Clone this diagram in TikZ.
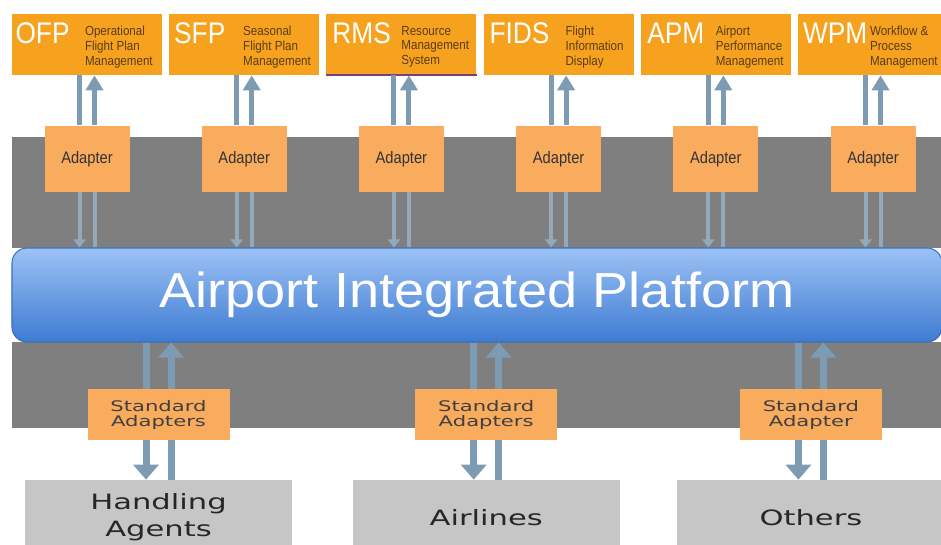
\documentclass[tikz,border=0pt]{standalone}
\usepackage{fontspec}
\usetikzlibrary{arrows.meta}
\usetikzlibrary{positioning}
\newfontfamily\topfont[FakeStretch=0.88]{Liberation Sans}
\newfontfamily\lowfont[FakeStretch=1.45]{DejaVu Sans}
\newfontfamily\platfont[FakeStretch=1.1]{Liberation Sans}
\definecolor{sysorange}{HTML}{F7A21E}
\definecolor{adaptorange}{HTML}{F9AB5E}
\definecolor{bandgray}{HTML}{7F7F7F}
\definecolor{partygray}{HTML}{C6C6C6}
\definecolor{flowblue}{HTML}{7E9BB4}
\definecolor{flowlight}{HTML}{93A8B9}
\definecolor{platTop}{HTML}{9CC2F5}
\definecolor{platBot}{HTML}{3E7BD1}
\definecolor{platEdge}{HTML}{3A70C0}
\definecolor{descbrown}{HTML}{5A3C14}
\definecolor{rmspurple}{HTML}{7B3F7B}

\begin{document}
        \begin{tikzpicture}[
            system/.style = {fill=sysorange, minimum width=3cm, minimum height=1.22cm, inner sep=0pt},
            abbr/.style = {anchor=north west, inner sep=0pt, text=white, font=\topfont\fontsize{17}{17}\selectfont},
            desc/.style = {anchor=north west, inner sep=0pt, align=left, text=descbrown, font=\topfont\fontsize{7.5}{8.5}\selectfont},
            adapter/.style = {fill=adaptorange, minimum width=1.7cm, minimum height=1.32cm, inner sep=0pt, text=black!80, font=\topfont\fontsize{9.5}{10}\selectfont},
            stdadapter/.style = {fill=adaptorange, minimum width=2.84cm, minimum height=1.02cm, inner sep=0pt, align=center, text=black!75, font=\lowfont\fontsize{8.3}{8.6}\selectfont},
            party/.style = {fill=partygray, minimum width=5.34cm, minimum height=1.5cm, inner sep=0pt, align=center, text=black!85, font=\lowfont\fontsize{12}{15.3}\selectfont},
            platform/.style = {draw=platEdge, line width=0.6pt, rounded corners=0.3cm, top color=platTop, bottom color=platBot, minimum width=18.6cm, minimum height=1.88cm, text=white, font=\platfont\fontsize{28}{30}\selectfont},
            flow/.style = {draw=flowblue, line width=0.1cm},
            thinflow/.style = {draw=flowlight, line width=0.08cm},
            bigflow/.style = {draw=flowblue, line width=0.14cm},
            uphead/.style = {-{Triangle[width=0.34cm, length=0.3cm]}},
            downhead/.style = {-{Triangle[width=0.24cm, length=0.16cm]}},
            bighead/.style = {-{Triangle[width=0.5cm, length=0.3cm]}}
        ]
            \useasboundingbox (0,0) rectangle (18.82,10.88);
            \clip (0,0) rectangle (18.82,10.88);

            \fill[bandgray] (0.24,5.92) rectangle (18.82,8.14);
            \fill[bandgray] (0.24,2.32) rectangle (18.82,4.04);

            \node[platform] (platform) at (9.54,4.98) {Airport Integrated Platform};

            \node[system] (ofp) at (1.74,9.99) {};
            \node[system, right=0.13cm of ofp] (sfp) {};
            \node[system, right=0.13cm of sfp] (rms) {};
            \node[system, right=0.13cm of rms] (fids) {};
            \node[system, right=0.13cm of fids] (apm) {};
            \node[system, right=0.13cm of apm] (wpm) {};
            \draw[rmspurple, line width=1.2pt] (rms.south west) -- (rms.south east);

            \node[abbr] (ofpName) at ([shift={(0.07,-0.18)}]ofp.north west) {OFP};
            \node[abbr] (sfpName) at ([shift={(0.1,-0.18)}]sfp.north west) {SFP};
            \node[abbr] (rmsName) at ([shift={(0.12,-0.18)}]rms.north west) {RMS};
            \node[abbr] (fidsName) at ([shift={(0.12,-0.18)}]fids.north west) {FIDS};
            \node[abbr] (apmName) at ([shift={(0.13,-0.18)}]apm.north west) {APM};
            \node[abbr] (wpmName) at ([shift={(0.1,-0.18)}]wpm.north west) {WPM};

            \node[desc] (ofpText) at ([shift={(1.46,-0.24)}]ofp.north west) {Operational\\Flight Plan\\Management};
            \node[desc] (sfpText) at ([shift={(1.48,-0.24)}]sfp.north west) {Seasonal\\Flight Plan\\Management};
            \node[desc] (rmsText) at ([shift={(1.5,-0.24)}]rms.north west) {Resource\\Management\\System};
            \node[desc] (fidsText) at ([shift={(1.64,-0.24)}]fids.north west) {Flight\\Information\\Display};
            \node[desc] (apmText) at ([shift={(1.5,-0.24)}]apm.north west) {Airport\\Performance\\Management};
            \node[desc] (wpmText) at ([shift={(1.44,-0.24)}]wpm.north west) {Workflow \&\\Process\\Management};

            \node[adapter, below=1cm of ofp] (ofpAdapter) {Adapter};
            \node[adapter, below=1cm of sfp] (sfpAdapter) {Adapter};
            \node[adapter, below=1cm of rms] (rmsAdapter) {Adapter};
            \node[adapter, below=1cm of fids] (fidsAdapter) {Adapter};
            \node[adapter, below=1cm of apm] (apmAdapter) {Adapter};
            \node[adapter, below=1cm of wpm] (wpmAdapter) {Adapter};

            \draw[flow] ([xshift=-0.15cm]ofpAdapter.north) -- ([xshift=-0.15cm]ofp.south);
            \draw[flow, uphead] ([xshift=0.15cm]ofpAdapter.north) -- ([xshift=0.15cm]ofp.south);
            \draw[flow] ([xshift=-0.15cm]sfpAdapter.north) -- ([xshift=-0.15cm]sfp.south);
            \draw[flow, uphead] ([xshift=0.15cm]sfpAdapter.north) -- ([xshift=0.15cm]sfp.south);
            \draw[flow] ([xshift=-0.15cm]rmsAdapter.north) -- ([xshift=-0.15cm]rms.south);
            \draw[flow, uphead] ([xshift=0.15cm]rmsAdapter.north) -- ([xshift=0.15cm]rms.south);
            \draw[flow] ([xshift=-0.15cm]fidsAdapter.north) -- ([xshift=-0.15cm]fids.south);
            \draw[flow, uphead] ([xshift=0.15cm]fidsAdapter.north) -- ([xshift=0.15cm]fids.south);
            \draw[flow] ([xshift=-0.15cm]apmAdapter.north) -- ([xshift=-0.15cm]apm.south);
            \draw[flow, uphead] ([xshift=0.15cm]apmAdapter.north) -- ([xshift=0.15cm]apm.south);
            \draw[flow] ([xshift=-0.15cm]wpmAdapter.north) -- ([xshift=-0.15cm]wpm.south);
            \draw[flow, uphead] ([xshift=0.15cm]wpmAdapter.north) -- ([xshift=0.15cm]wpm.south);

            \draw[thinflow, downhead] ([xshift=-0.15cm]ofpAdapter.south) -- ([xshift=-0.15cm]ofpAdapter.south |- platform.north);
            \draw[thinflow] ([xshift=0.15cm]ofpAdapter.south) -- ([xshift=0.15cm]ofpAdapter.south |- platform.north);
            \draw[thinflow, downhead] ([xshift=-0.15cm]sfpAdapter.south) -- ([xshift=-0.15cm]sfpAdapter.south |- platform.north);
            \draw[thinflow] ([xshift=0.15cm]sfpAdapter.south) -- ([xshift=0.15cm]sfpAdapter.south |- platform.north);
            \draw[thinflow, downhead] ([xshift=-0.15cm]rmsAdapter.south) -- ([xshift=-0.15cm]rmsAdapter.south |- platform.north);
            \draw[thinflow] ([xshift=0.15cm]rmsAdapter.south) -- ([xshift=0.15cm]rmsAdapter.south |- platform.north);
            \draw[thinflow, downhead] ([xshift=-0.15cm]fidsAdapter.south) -- ([xshift=-0.15cm]fidsAdapter.south |- platform.north);
            \draw[thinflow] ([xshift=0.15cm]fidsAdapter.south) -- ([xshift=0.15cm]fidsAdapter.south |- platform.north);
            \draw[thinflow, downhead] ([xshift=-0.15cm]apmAdapter.south) -- ([xshift=-0.15cm]apmAdapter.south |- platform.north);
            \draw[thinflow] ([xshift=0.15cm]apmAdapter.south) -- ([xshift=0.15cm]apmAdapter.south |- platform.north);
            \draw[thinflow, downhead] ([xshift=-0.15cm]wpmAdapter.south) -- ([xshift=-0.15cm]wpmAdapter.south |- platform.north);
            \draw[thinflow] ([xshift=0.15cm]wpmAdapter.south) -- ([xshift=0.15cm]wpmAdapter.south |- platform.north);

            \node[party] (agents) at (3.17,0.53) {Handling\\Agents};
            \node[party, right=1.2cm of agents] (airlines) {Airlines};
            \node[party, right=1.14cm of airlines] (others) {Others};

            \draw[bigflow, bighead] ([xshift=-0.25cm]agents.north |- platform.south) -- ([xshift=-0.25cm]agents.north);
            \draw[bigflow, bighead] ([xshift=0.25cm]agents.north) -- ([xshift=0.25cm]agents.north |- platform.south);
            \draw[bigflow, bighead] ([xshift=-0.25cm]airlines.north |- platform.south) -- ([xshift=-0.25cm]airlines.north);
            \draw[bigflow, bighead] ([xshift=0.25cm]airlines.north) -- ([xshift=0.25cm]airlines.north |- platform.south);
            \draw[bigflow, bighead] ([xshift=-0.25cm]others.north |- platform.south) -- ([xshift=-0.25cm]others.north);
            \draw[bigflow, bighead] ([xshift=0.25cm]others.north) -- ([xshift=0.25cm]others.north |- platform.south);

            \node[stdadapter, above=0.78cm of agents] (agentsStd) {Standard\\Adapters};
            \node[stdadapter, above=0.78cm of airlines] (airlinesStd) {Standard\\Adapters};
            \node[stdadapter, above=0.78cm of others] (othersStd) {Standard\\Adapter};
        \end{tikzpicture}
\end{document}
